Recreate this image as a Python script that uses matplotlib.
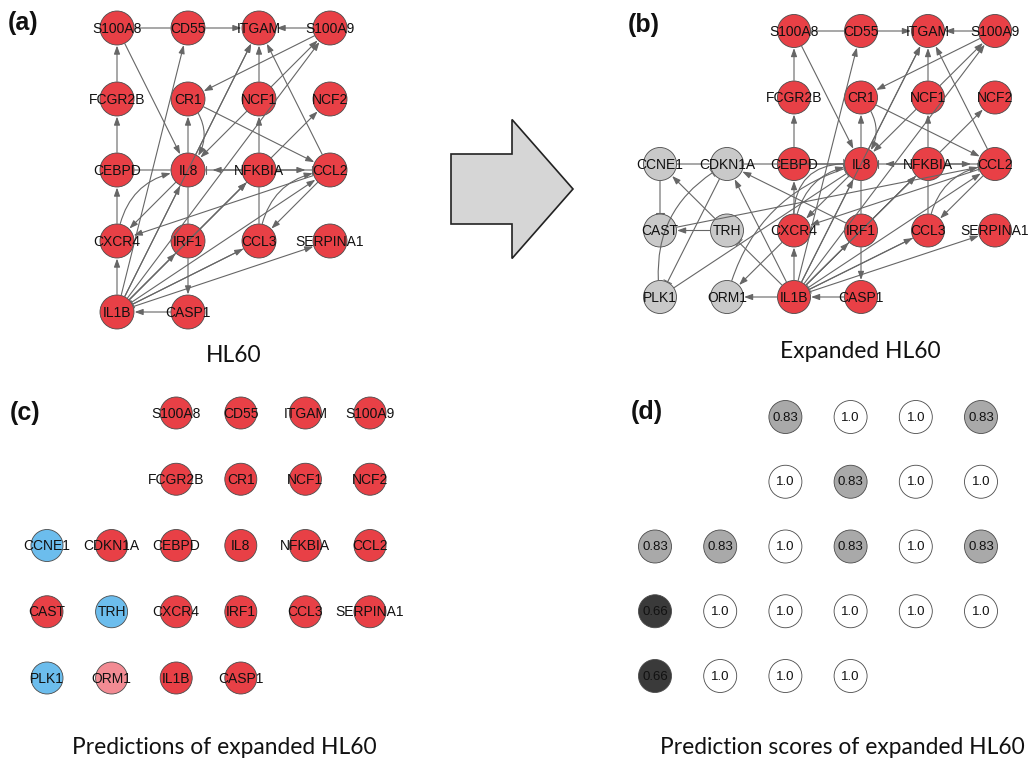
import matplotlib
matplotlib.use('Agg')
import matplotlib.pyplot as plt
from matplotlib.patches import FancyArrowPatch, FancyArrow

# ---- data -------------------------------------------------------------
genes = ['S100A8', 'CD55', 'ITGAM', 'S100A9',
         'FCGR2B', 'CR1', 'NCF1', 'NCF2',
         'CCNE1', 'CDKN1A', 'CEBPD', 'IL8', 'NFKBIA', 'CCL2',
         'CAST', 'TRH', 'CXCR4', 'IRF1', 'CCL3', 'SERPINA1',
         'PLK1', 'ORM1', 'IL1B', 'CASP1']
grid_col = [2, 3, 4, 5, 2, 3, 4, 5, 0, 1, 2, 3, 4, 5, 0, 1, 2, 3, 4, 5, 0, 1, 2, 3]
grid_row = [0, 0, 0, 0, 1, 1, 1, 1, 2, 2, 2, 2, 2, 2, 3, 3, 3, 3, 3, 3, 4, 4, 4, 4]
added_genes = ['CCNE1', 'CDKN1A', 'CAST', 'TRH', 'PLK1', 'ORM1']
predictions = ['up', 'up', 'up', 'up', 'up', 'up', 'up', 'up',
               'down', 'up', 'up', 'up', 'up', 'up',
               'up', 'down', 'up', 'up', 'up', 'up',
               'down', 'weak', 'up', 'up']
scores = [0.83, 1.0, 1.0, 0.83, 1.0, 0.83, 1.0, 1.0,
          0.83, 0.83, 1.0, 0.83, 1.0, 0.83,
          0.66, 1.0, 1.0, 1.0, 1.0, 1.0,
          0.66, 1.0, 1.0, 1.0]

# edges: source, target, kind ('>' activation, '|' inhibition, '-' plain, '|>' both), curvature
hl60_edges = [
    ('S100A8', 'CD55', '-', 0), ('CD55', 'ITGAM', '>', 0), ('S100A9', 'ITGAM', '>', 0),
    ('FCGR2B', 'S100A8', '>', 0), ('CEBPD', 'FCGR2B', '>', 0), ('CXCR4', 'CEBPD', '>', 0),
    ('IL1B', 'CXCR4', '>', 0), ('CASP1', 'IL1B', '>', 0), ('S100A8', 'IL8', '>', 0),
    ('IL8', 'CR1', '>', 0), ('IL8', 'IRF1', '-', 0), ('IRF1', 'CASP1', '>', 0),
    ('CEBPD', 'IL8', '-', 0), ('NFKBIA', 'IL8', '|>', 0), ('NFKBIA', 'CCL2', '|>', 0),
    ('NFKBIA', 'NCF1', '>', 0), ('NCF1', 'ITGAM', '>', 0), ('NFKBIA', 'NCF2', '>', 0),
    ('NFKBIA', 'CCL3', '-', 0), ('S100A9', 'CR1', '>', 0), ('NCF1', 'IL8', '>', 0),
    ('IL8', 'ITGAM', '>', 0), ('CR1', 'IL8', '>', -0.45), ('CR1', 'CCL2', '>', 0),
    ('CCL2', 'ITGAM', '>', 0), ('IL1B', 'S100A9', '>', 0), ('NCF1', 'S100A9', '>', 0),
    ('IL8', 'CXCR4', '>', 0), ('CXCR4', 'IL8', '>', -0.4), ('CCL2', 'CXCR4', '>', 0),
    ('IL1B', 'CD55', '>', 0), ('IL1B', 'IL8', '>', 0), ('IL1B', 'IRF1', '>', 0),
    ('IRF1', 'NFKBIA', '>', 0), ('IL1B', 'NFKBIA', '>', 0), ('IL1B', 'CCL2', '>', 0),
    ('IL1B', 'CCL3', '>', 0), ('IL1B', 'SERPINA1', '>', 0), ('CCL2', 'CCL3', '>', 0),
    ('CCL3', 'CCL2', '>', -0.4), ('NFKBIA', 'IL1B', '-', 0), ('CCL3', 'IL1B', '|', 0),
    ('IL1B', 'ITGAM', '>', 0),
]
expanded_edges = [
    ('CCNE1', 'CDKN1A', '-', 0), ('CDKN1A', 'IL8', '|', 0), ('CCNE1', 'CAST', '|', 0),
    ('TRH', 'CAST', '>', 0), ('TRH', 'CCNE1', '>', 0), ('CDKN1A', 'PLK1', '|', 0),
    ('PLK1', 'CDKN1A', '|', -0.35), ('CAST', 'CCL2', '|', 0), ('PLK1', 'IL8', '|', 0),
    ('ORM1', 'IL8', '|', -0.3), ('CXCR4', 'ORM1', '>', 0), ('IL1B', 'ORM1', '>', 0),
    ('IL1B', 'TRH', '|', 0), ('IL1B', 'CDKN1A', '>', 0), ('IRF1', 'CDKN1A', '>', 0),
    ('CXCR4', 'IL8', '|', -0.6),
]

# ---- styles -------------------------------------------------------------
RED = '#E84046'
GRAY = '#C9C9C9'
pred_colors = {'up': RED, 'down': '#6CBDED', 'weak': '#F28B93'}
score_colors = {1.0: '#FFFFFF', 0.83: '#A9A9A9', 0.66: '#3A3A3A'}
EDGE = '#666666'
W, H = 1030, 767

plt.rcParams['font.family'] = ['Liberation Sans', 'DejaVu Sans']
fig = plt.figure(figsize=(W / 100, H / 100), dpi=100)

pos = {g: (c, r) for g, c, r in zip(genes, grid_col, grid_row)}


def grid_axes(x0, y0, dx, dy):
    # axes whose data units are grid cells; (x0, y0) = pixel of cell (0, 0)
    left = x0 - 0.5 * dx
    top = y0 - 0.5 * dy
    ax = fig.add_axes([left / W, 1 - (top + 5 * dy) / H, 6 * dx / W, 5 * dy / H])
    ax.set_xlim(-0.5, 5.5)
    ax.set_ylim(4.5, -0.5)
    ax.axis('off')
    return ax


def draw_nodes(ax, names, colors, labels, diam_px, fs):
    xs = [pos[n][0] for n in names]
    ys = [pos[n][1] for n in names]
    s = (diam_px * 0.72) ** 2
    ax.scatter(xs, ys, s=s, c=colors, edgecolors='#4a4a4a', linewidths=0.6,
               zorder=2, clip_on=False)
    for x, y, t in zip(xs, ys, labels):
        ax.text(x, y + 0.01, t, ha='center', va='center', fontsize=fs,
                color='#111111', zorder=5)


def draw_edges(ax, edges, r_px):
    shrink = r_px * 0.72 + 0.4
    for a, b, kind, rad in edges:
        p, q = pos[a], pos[b]
        cs = f'arc3,rad={rad}'
        kw = dict(connectionstyle=cs, shrinkA=shrink, mutation_scale=10,
                  color=EDGE, lw=0.8, zorder=3, clip_on=False)
        if kind in ('|', '|>'):
            ax.add_patch(FancyArrowPatch(p, q, arrowstyle='|-|,widthA=0,widthB=0.3',
                                         shrinkB=shrink, **kw))
        if kind in ('>', '|>'):
            extra = 5 if kind == '|>' else 0
            ax.add_patch(FancyArrowPatch(p, q, arrowstyle='-|>,head_length=0.5,head_width=0.18',
                                         shrinkB=shrink + extra, **kw))
        if kind == '-':
            ax.add_patch(FancyArrowPatch(p, q, arrowstyle='-', shrinkB=shrink, **kw))


# ---- (a) HL60 network --------------------------------------------------
hl60 = [g for g in genes if g not in added_genes]
ax_a = grid_axes(-25, 28, 71, 71)
draw_edges(ax_a, hl60_edges, 17)
draw_nodes(ax_a, hl60, [RED] * len(hl60), hl60, 34, 10)

# ---- (b) expanded network ----------------------------------------------
ax_b = grid_axes(660, 31, 67, 66.5)
draw_edges(ax_b, hl60_edges + expanded_edges, 16.5)
draw_nodes(ax_b, genes, [GRAY if g in added_genes else RED for g in genes], genes, 33, 10)

# ---- (c) predictions ---------------------------------------------------
ax_c = grid_axes(47, 413, 64.6, 66.25)
draw_nodes(ax_c, genes, [pred_colors[p] for p in predictions], genes, 32, 10)

# ---- (d) prediction scores ---------------------------------------------
ax_d = grid_axes(655, 417, 65.2, 64.75)
draw_nodes(ax_d, genes, [score_colors[s] for s in scores], [str(s) for s in scores], 33, 9.5)

# ---- overlay: big arrow, captions, panel letters -----------------------
ax0 = fig.add_axes([0, 0, 1, 1], zorder=-1)
ax0.set_xlim(0, W)
ax0.set_ylim(H, 0)
ax0.axis('off')
ax0.add_patch(FancyArrow(451, 189, 122, 0, width=70, head_width=139, head_length=61,
                         length_includes_head=True, facecolor='#D6D6D6',
                         edgecolor='#222222', lw=1.2))

cap = dict(ha='center', va='center', fontsize=16.4, family=['Lato', 'DejaVu Sans'], color='#111111')
ax0.text(234, 355, 'HL60', **cap)
ax0.text(860, 352, 'Expanded HL60', **cap)
ax0.text(224, 748, 'Predictions of expanded HL60', **cap)
ax0.text(842, 748, 'Prediction scores of expanded HL60', **cap)

lab = dict(ha='left', va='center', fontsize=18, fontweight='bold', color='#111111')
ax0.text(8, 23, '(a)', **lab)
ax0.text(628, 25, '(b)', **lab)
ax0.text(10, 413, '(c)', **lab)
ax0.text(631, 412, '(d)', **lab)

fig.savefig('out.png', dpi=100)
